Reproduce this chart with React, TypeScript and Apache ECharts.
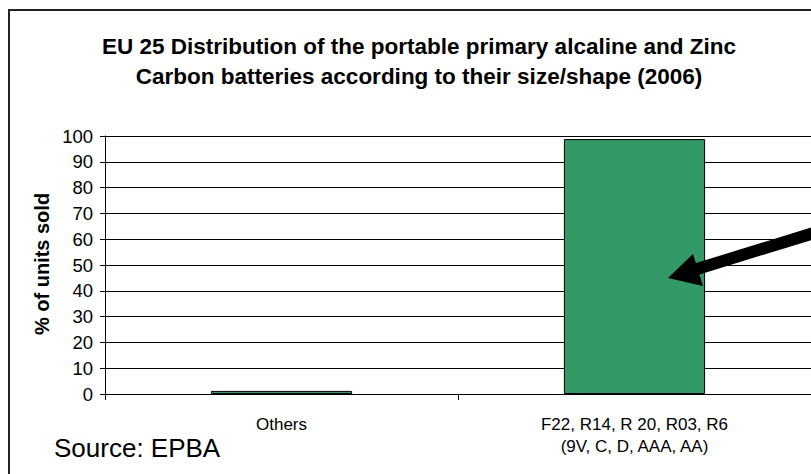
import React, { useEffect, useRef } from "react";
import * as echarts from "echarts";

const categories = ["Others", "F22, R14, R 20, R03, R6\n(9V, C, D, AAA, AA)"];
const shareValues = [1.2, 98.8];
const titleLines = [
  "EU 25 Distribution of the portable primary alcaline and Zinc",
  "Carbon batteries according to their size/shape (2006)",
];
const yAxisTitle = "% of units sold";
const sourceNote = "Source: EPBA";

const FONT = "'Liberation Sans', Arial, sans-serif";

export default function App() {
  const ref = useRef<HTMLDivElement>(null);
  useEffect(() => {
    if (!ref.current) return;
    const chart = echarts.init(ref.current, undefined, { renderer: "svg" });
    chart.setOption({
      animation: false,
      backgroundColor: "#ffffff",
      textStyle: { fontFamily: FONT },
      grid: { left: 105, top: 136, width: 710, height: 258 },
      xAxis: {
        type: "category",
        data: categories,
        axisLine: { lineStyle: { color: "#000", width: 1 } },
        axisTick: { show: true, alignWithLabel: false, length: 6, interval: 0, lineStyle: { color: "#000" } },
        axisLabel: {
          interval: 0,
          color: "#000",
          fontSize: 17,
          lineHeight: 22,
          margin: 19,
          fontFamily: FONT,
        },
      },
      yAxis: {
        type: "value",
        min: 0,
        max: 100,
        interval: 10,
        axisLine: { show: true, lineStyle: { color: "#000", width: 1 } },
        axisTick: { show: true, length: 5, lineStyle: { color: "#000" } },
        axisLabel: { color: "#000", fontSize: 18.5, margin: 12, fontFamily: FONT },
        splitLine: { show: true, lineStyle: { color: "#000", width: 1 } },
      },
      series: [
        {
          type: "bar",
          data: shareValues,
          barWidth: "40%",
          itemStyle: { color: "#339966", borderColor: "#000", borderWidth: 1 },
        },
      ],
      graphic: [
        {
          type: "rect",
          shape: { x: 9, y: 10, width: 900, height: 600 },
          style: { fill: "none", stroke: "#222", lineWidth: 2 },
          silent: true,
        },
        {
          type: "text",
          x: 419,
          y: 46,
          style: {
            text: titleLines[0],
            font: `bold 22.5px ${FONT}`,
            fill: "#000",
            align: "center",
            verticalAlign: "middle",
          },
        },
        {
          type: "text",
          x: 419,
          y: 76,
          style: {
            text: titleLines[1],
            font: `bold 22.5px ${FONT}`,
            fill: "#000",
            align: "center",
            verticalAlign: "middle",
          },
        },
        {
          type: "text",
          x: 42,
          y: 264,
          rotation: Math.PI / 2,
          style: {
            text: yAxisTitle,
            font: `bold 20px ${FONT}`,
            fill: "#000",
            align: "center",
            verticalAlign: "middle",
          },
        },
        {
          type: "text",
          x: 54,
          y: 448,
          style: {
            text: sourceNote,
            font: `26px ${FONT}`,
            fill: "#000",
            align: "left",
            verticalAlign: "middle",
          },
        },
        {
          type: "line",
          shape: { x1: 697, y1: 269, x2: 830, y2: 228 },
          style: { stroke: "#000", lineWidth: 12 },
          z: 100,
        },
        {
          type: "polygon",
          shape: { points: [[668, 278], [693, 254], [703, 286]] },
          style: { fill: "#000" },
          z: 100,
        },
      ],
    });
    return () => chart.dispose();
  }, []);
  return (
    <div
      ref={ref}
      style={{ position: "absolute", left: 0, top: 0, width: 811, height: 474 }}
    />
  );
}
